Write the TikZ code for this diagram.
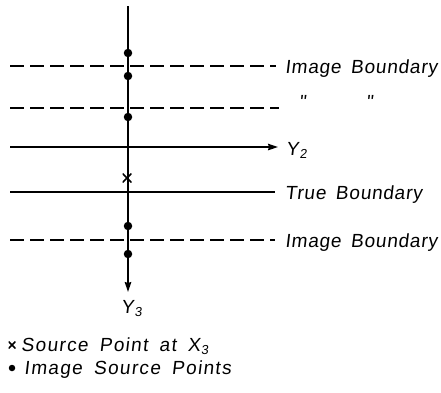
\documentclass[tikz,border=0pt]{standalone}
\usepackage{fontspec}
\setmainfont{Liberation Sans}
\newfontfamily\lblfont{Liberation Sans}[LetterSpace=4,WordSpace=1.6,FakeSlant=0.12]
\newfontfamily\legfont{Liberation Sans}[LetterSpace=7,WordSpace=1.7,FakeSlant=0.12]
\usetikzlibrary{arrows.meta}
\newcommand{\mysub}[1]{\kern0.8pt\raisebox{-3.5pt}{\fontsize{13}{13}\selectfont #1}}
\begin{document}
\begin{tikzpicture}[x=1pt,y=-1pt,
  lbl/.style={font=\lblfont\fontsize{19}{22}\selectfont, inner sep=0pt, anchor=base west},
  leg/.style={font=\legfont\fontsize{19}{22}\selectfont, inner sep=0pt, anchor=base west},
  bline/.style={line width=1.4pt},
  dline/.style={line width=1.3pt, dash pattern=on 14pt off 6pt},
  src/.style={circle, fill=black, inner sep=0pt, minimum size=8.5pt},
  cross/.style={inner sep=0pt, minimum size=9pt, path picture={\draw[line width=1.5pt] (path picture bounding box.north west) -- (path picture bounding box.south east) (path picture bounding box.north east) -- (path picture bounding box.south west);}},
  arr/.style={-{Stealth[length=10pt,width=6.5pt,inset=1pt]}}]
\useasboundingbox (0,0) rectangle (441,392);
% lines
\coordinate (d1a) at (10,66);  \coordinate (d1b) at (276,66);
\coordinate (d2a) at (10,108); \coordinate (d2b) at (279,108);
\coordinate (y2a) at (10,147); \coordinate (y2b) at (278,147);
\coordinate (tba) at (10,192); \coordinate (tbb) at (275,192);
\coordinate (d3a) at (10,240); \coordinate (d3b) at (275,240);
\coordinate (vt) at (128,6);   \coordinate (vb) at (128,292);
\draw[dline] (d1a) -- (d1b);
\draw[dline] (d2a) -- (d2b);
\draw[bline,arr] (y2a) -- (y2b);
\draw[bline] (tba) -- (tbb);
\draw[dline] (d3a) -- (d3b);
\draw[bline,arr] (vt) -- (vb);
% labels
\node[lbl] (l1) at (285,73) {Image Boundary};
\node[lbl] (q1) at (299,108) {\char"0022};
\node[lbl] (q2) at (366,108) {\char"0022};
\node[lbl] (ly2) at (286,155) {Y\mysub{2}};
\node[lbl] (l2) at (285,199) {True Boundary};
\node[lbl] (l3) at (285,247) {Image Boundary};
\node[lbl] (ly3) at (121,313) {Y\mysub{3}};
% source points
\node[src] (p1) at (128,53) {};
\node[src] (p2) at (128,76) {};
\node[src] (p3) at (128,117) {};
\node[src] (p4) at (128,226) {};
\node[src] (p5) at (128,254) {};
\node[cross] (x0) at (127,178) {};
% legend
\node[cross, minimum size=7pt] (lx) at (12,345) {};
\node[leg] (lt1) at (21,351) {Source Point at X\mysub{3}};
\node[circle, fill=black, inner sep=0pt, minimum size=6.5pt] (ld) at (12,368) {};
\node[leg] (lt2) at (24,374) {Image Source Points};
\end{tikzpicture}
\end{document}
